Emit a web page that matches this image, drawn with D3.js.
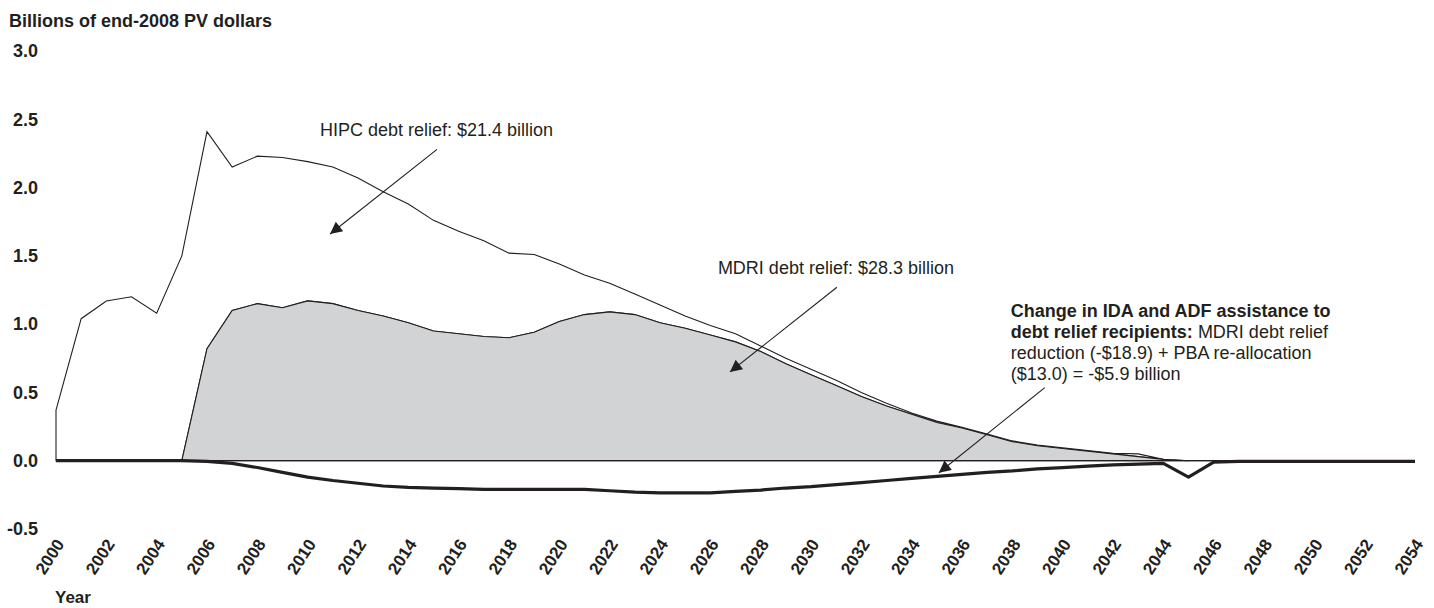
<!DOCTYPE html>
<html>
<head>
<meta charset="utf-8">
<script src="https://cdn.jsdelivr.net/npm/d3@7"></script>
<style>
  body { margin: 0; background: #fff; }
  svg { display: block; font-family: "Liberation Sans", Arial, sans-serif; }
</style>
</head>
<body>
<svg id="chart" width="1434" height="608"></svg>
<script>
// years on the x axis
const years = d3.range(2000, 2055);

// MDRI debt relief (grey area), billions of end-2008 PV dollars
const mdri = [0, 0, 0, 0, 0, 0,
  0.82, 1.10, 1.15, 1.12, 1.17, 1.15, 1.10, 1.06, 1.01, 0.95, 0.93, 0.91, 0.90, 0.94,
  1.02, 1.07, 1.09, 1.07, 1.01, 0.97, 0.92, 0.87, 0.80, 0.71, 0.63, 0.55, 0.47, 0.40,
  0.34, 0.28, 0.24, 0.19, 0.14, 0.11, 0.09, 0.07, 0.05, 0.03, 0.01,
  0, 0, 0, 0, 0, 0, 0, 0, 0, 0];

// HIPC debt relief, stacked on top of MDRI
const hipc = [0.37, 1.04, 1.17, 1.20, 1.08, 1.50, 1.59, 1.05, 1.08, 1.10,
  1.02, 1.00, 0.97, 0.91, 0.87, 0.81, 0.75, 0.70, 0.62, 0.57,
  0.42, 0.29, 0.21, 0.15, 0.13, 0.09, 0.07, 0.06, 0.04, 0.04,
  0.04, 0.04, 0.03, 0.02, 0.01, 0.01, 0.005, 0.005, 0.005, 0.005,
  0.005, 0.005, 0.005, 0.02, 0,
  0, 0, 0, 0, 0, 0, 0, 0, 0, 0];

// change in IDA and ADF assistance (thick line)
const change = [0, 0, 0, 0, 0, 0,
  -0.005, -0.02, -0.05, -0.085, -0.12, -0.145, -0.165, -0.185, -0.195, -0.2,
  -0.205, -0.21, -0.21, -0.21, -0.21, -0.21, -0.22, -0.23, -0.235, -0.235,
  -0.235, -0.225, -0.215, -0.2, -0.19, -0.175, -0.16, -0.145, -0.13, -0.115,
  -0.1, -0.085, -0.075, -0.06, -0.05, -0.04, -0.03, -0.025, -0.02, -0.12,
  -0.01, -0.005, -0.005, -0.005, -0.005, -0.005, -0.005, -0.005, -0.005];

const yTicks = [3.0, 2.5, 2.0, 1.5, 1.0, 0.5, 0.0, -0.5];
const yTickLabels = ['3.0', '2.5', '2.0', '1.5', '1.0', '0.5', '0.0', '-0.5'];
const xTicks = d3.range(2000, 2055, 2);

const ink = '#231f20';
const svg = d3.select('#chart');

const x = d3.scaleLinear().domain([2000, 2054]).range([56, 1415]);
const y = d3.scaleLinear().domain([-0.5, 3]).range([529, 51]);

const rows = years.map((yr, i) => ({ year: yr, mdri: mdri[i], hipc: hipc[i], change: change[i] }));
const stacked = d3.stack().keys(['mdri', 'hipc'])(rows);

const area = d3.area()
  .x(d => x(d.data.year))
  .y0(d => y(d[0]))
  .y1(d => y(d[1]));

// HIPC layer (white, outlined) then MDRI grey
svg.append('path')
  .datum(stacked[1])
  .attr('d', area)
  .attr('fill', '#fff')
  .attr('stroke', ink)
  .attr('stroke-width', 1.1);

svg.append('path')
  .datum(stacked[0].filter(d => d.data.year >= 2005 && d.data.year <= 2045))
  .attr('d', area)
  .attr('fill', '#d1d3d4')
  .attr('stroke', ink)
  .attr('stroke-width', 1.1);

// zero line
svg.append('line')
  .attr('x1', x(2000)).attr('x2', x(2054))
  .attr('y1', y(0)).attr('y2', y(0))
  .attr('stroke', ink).attr('stroke-width', 1.2);

// change line
svg.append('path')
  .datum(rows)
  .attr('d', d3.line().x(d => x(d.year)).y(d => y(d.change)))
  .attr('fill', 'none')
  .attr('stroke', ink)
  .attr('stroke-width', 3.2)
  .attr('stroke-linejoin', 'round');

// y labels
svg.append('g').selectAll('text')
  .data(yTicks)
  .join('text')
  .attr('x', 38)
  .attr('y', d => y(d))
  .attr('dy', '0.35em')
  .attr('text-anchor', 'end')
  .attr('font-size', 18)
  .attr('font-weight', 'bold')
  .attr('fill', ink)
  .text((d, i) => yTickLabels[i]);

// x labels, rotated
svg.append('g').selectAll('text')
  .data(xTicks)
  .join('text')
  .attr('transform', d => `translate(${x(d) + 9},544) rotate(-57)`)
  .attr('text-anchor', 'end')
  .attr('font-size', 17)
  .attr('font-weight', 'bold')
  .attr('fill', ink)
  .text(d => d);

svg.append('text')
  .attr('x', 9).attr('y', 27)
  .attr('font-size', 18).attr('font-weight', 'bold').attr('fill', ink)
  .text('Billions of end-2008 PV dollars');

svg.append('text')
  .attr('x', 55).attr('y', 603)
  .attr('font-size', 17).attr('font-weight', 'bold').attr('fill', ink)
  .text('Year');

// arrows
svg.append('defs').append('marker')
  .attr('id', 'head')
  .attr('viewBox', '0 0 10 10')
  .attr('refX', 10).attr('refY', 5)
  .attr('markerWidth', 16).attr('markerHeight', 12)
  .attr('markerUnits', 'userSpaceOnUse')
  .attr('orient', 'auto')
  .append('path')
  .attr('d', 'M0,0L10,5L0,10z')
  .attr('fill', ink);

const arrows = [
  { from: [2015.14, 2.28], to: [2010.89, 1.66] },
  { from: [2031.03, 1.27], to: [2026.78, 0.65] },
  { from: [2039.29, 0.535], to: [2035.08, -0.088] }
];

svg.append('g').selectAll('line')
  .data(arrows)
  .join('line')
  .attr('x1', d => x(d.from[0])).attr('y1', d => y(d.from[1]))
  .attr('x2', d => x(d.to[0])).attr('y2', d => y(d.to[1]))
  .attr('stroke', ink).attr('stroke-width', 1.1)
  .attr('marker-end', 'url(#head)');

// annotation labels
svg.append('text')
  .attr('x', x(2010.49)).attr('y', y(2.375))
  .attr('font-size', 18).attr('fill', ink)
  .text('HIPC debt relief: $21.4 billion');

svg.append('text')
  .attr('x', x(2026.3)).attr('y', y(1.37))
  .attr('font-size', 18).attr('fill', ink)
  .text('MDRI debt relief: $28.3 billion');

const note = svg.append('text')
  .attr('x', x(2037.94)).attr('y', y(1.05))
  .attr('font-size', 18).attr('fill', ink);
note.append('tspan').attr('font-weight', 'bold').text('Change in IDA and ADF assistance to');
note.append('tspan').attr('x', x(2037.94)).attr('dy', 21).attr('font-weight', 'bold').text('debt relief recipients:');
note.append('tspan').text(' MDRI debt relief');
note.append('tspan').attr('x', x(2037.94)).attr('dy', 21).text('reduction (-$18.9) + PBA re-allocation');
note.append('tspan').attr('x', x(2037.94)).attr('dy', 21).text('($13.0) = -$5.9 billion');
</script>
</body>
</html>
